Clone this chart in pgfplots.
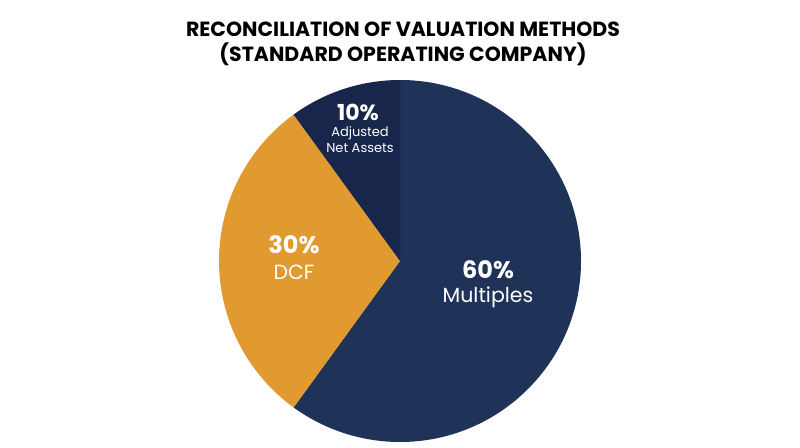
\documentclass[border=0pt]{standalone}
\usepackage{pgfplots}
\pgfplotsset{compat=1.18}
\usepackage{fontspec}
\setmainfont{Poppins}
\definecolor{multc}{HTML}{1F3257}
\definecolor{dcfc}{HTML}{E09A30}
\definecolor{adjc}{HTML}{17264A}
% shares (percent)
\def\shareMult{60}
\def\shareDCF{30}
\def\shareAdj{10}
\pgfmathsetmacro{\aA}{90}
\pgfmathsetmacro{\aB}{\aA-3.6*\shareMult}
\pgfmathsetmacro{\aC}{\aB-3.6*\shareDCF}
\pgfmathsetmacro{\aD}{\aC-3.6*\shareAdj}
\begin{document}
\begin{tikzpicture}
\begin{axis}[
  hide axis, scale only axis,
  width=800pt, height=447pt,
  xmin=0, xmax=800, ymin=0, ymax=447,
  clip=false,
]
\addplot[draw=none, forget plot] coordinates {(0,0) (800,447)};
\fill[white] (axis cs:0,0) rectangle (axis cs:800,447);
\fill[multc] (axis cs:400,186) -- +(\aA:181pt) arc[start angle=\aA, end angle=\aB, radius=181pt] -- cycle;
\fill[dcfc] (axis cs:400,186) -- +(\aB:181pt) arc[start angle=\aB, end angle=\aC, radius=181pt] -- cycle;
\fill[adjc] (axis cs:400,186) -- +(\aC:181pt) arc[start angle=\aC, end angle=\aD, radius=181pt] -- cycle;
\node[align=center, font=\fontsize{20.5}{24.5}\selectfont\bfseries, text=black] at (axis cs:403,403) {RECONCILIATION OF VALUATION METHODS\\(STANDARD OPERATING COMPANY)};
\node[align=center, text=white, font=\fontsize{22}{24}\selectfont\bfseries] at (axis cs:358,335) {10\%};
\node[align=center, text=white, font=\fontsize{13}{16}\selectfont] at (axis cs:360,307) {Adjusted\\Net Assets};
\node[text=white, font=\fontsize{24}{26}\selectfont\bfseries] at (axis cs:294,202) {30\%};
\node[text=white, font=\fontsize{20.5}{22}\selectfont] at (axis cs:294,175) {DCF};
\node[text=white, font=\fontsize{24}{26}\selectfont\bfseries] at (axis cs:488,177) {60\%};
\node[text=white, font=\fontsize{20.5}{22}\selectfont] at (axis cs:488,150) {Multiples};
\end{axis}
\end{tikzpicture}
\end{document}
